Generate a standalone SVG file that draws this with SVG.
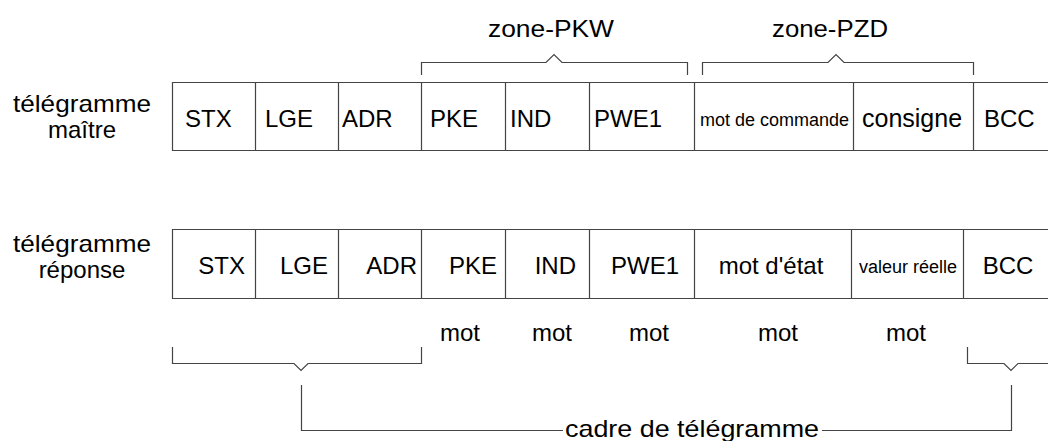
<svg xmlns="http://www.w3.org/2000/svg" width="1048" height="441" viewBox="0 0 1048 441">
<style>
.t{font-family:"Liberation Sans",Arial,sans-serif;font-size:24px;fill:#000}
.s{font-family:"Liberation Sans",Arial,sans-serif;font-size:18px;fill:#000}
.ln{fill:none;stroke:#444;stroke-width:1.2}
</style>
<rect width="1048" height="441" fill="#fff"/>
<g id="label-maitre"><text class="t" x="82" y="112" text-anchor="middle" textLength="138" lengthAdjust="spacingAndGlyphs">télégramme</text><text class="t" x="82" y="138" text-anchor="middle">maître</text></g>
<g id="label-reponse"><text class="t" x="82" y="252" text-anchor="middle" textLength="138" lengthAdjust="spacingAndGlyphs">télégramme</text><text class="t" x="82" y="278" text-anchor="middle">réponse</text></g>
<g id="row-maitre">
<path class="ln" d="M1048 82.5H172.5V150.5H1048M255.5 82V150M338.5 82V150M421.5 82V150M505.5 82V150M589.5 82V150M694.5 82V150M853.5 82V150M973.5 82V150"/>
<text class="t" x="185" y="127">STX</text>
<text class="t" x="265" y="127">LGE</text>
<text class="t" x="342" y="127">ADR</text>
<text class="t" x="430" y="127">PKE</text>
<text class="t" x="510" y="127">IND</text>
<text class="t" x="594" y="127">PWE1</text>
<text class="s" x="700" y="126">mot de commande</text>
<text class="t" x="862" y="127" style="font-size:25px">consigne</text>
<text class="t" x="984" y="127">BCC</text>
</g>
<g id="row-reponse">
<path class="ln" d="M1048 229.5H172.5V298.5H1048M255.5 229V298M338.5 229V298M421.5 229V298M505.5 229V298M589.5 229V298M694.5 229V298M851.5 229V298M963.5 229V298"/>
<text class="t" x="245" y="274" text-anchor="end">STX</text>
<text class="t" x="328" y="274" text-anchor="end">LGE</text>
<text class="t" x="417" y="274" text-anchor="end">ADR</text>
<text class="t" x="497" y="274" text-anchor="end">PKE</text>
<text class="t" x="576" y="274" text-anchor="end">IND</text>
<text class="t" x="679" y="274" text-anchor="end">PWE1</text>
<text class="t" x="771" y="274" text-anchor="middle">mot d'état</text>
<text class="s" x="908" y="273" text-anchor="middle">valeur réelle</text>
<text class="t" x="1008" y="274" text-anchor="middle">BCC</text>
</g>
<g id="words">
<text class="t" x="460" y="341" text-anchor="middle">mot</text>
<text class="t" x="552" y="341" text-anchor="middle">mot</text>
<text class="t" x="649" y="341" text-anchor="middle">mot</text>
<text class="t" x="778" y="341" text-anchor="middle">mot</text>
<text class="t" x="906" y="341" text-anchor="middle">mot</text>
</g>
<g id="zone-pkw"><text class="t" x="551" y="37" text-anchor="middle" textLength="126" lengthAdjust="spacingAndGlyphs">zone-PKW</text></g>
<g id="zone-pzd"><text class="t" x="830" y="37" text-anchor="middle" textLength="116" lengthAdjust="spacingAndGlyphs">zone-PZD</text></g>
<g id="cadre"><text class="t" x="692" y="437" text-anchor="middle" textLength="254" lengthAdjust="spacingAndGlyphs">cadre de télégramme</text></g>
<g id="connectors">
<path class="ln" d="M421.5 75V62.5H546L554 54.5L562 62.5H687.5V75"/>
<path class="ln" d="M702.5 75V62.5H828L836 54.5L844 62.5H973.5V75"/>
<path class="ln" d="M172.5 347V363.5H294L301 370.5L308 363.5H421.5V347"/>
<path class="ln" d="M967.5 347V363.5H1004L1011 370.5L1018 363.5H1048"/>
<path class="ln" d="M301.5 385V430.5H563M822 430.5H1011.5V385"/>
</g>
</svg>
